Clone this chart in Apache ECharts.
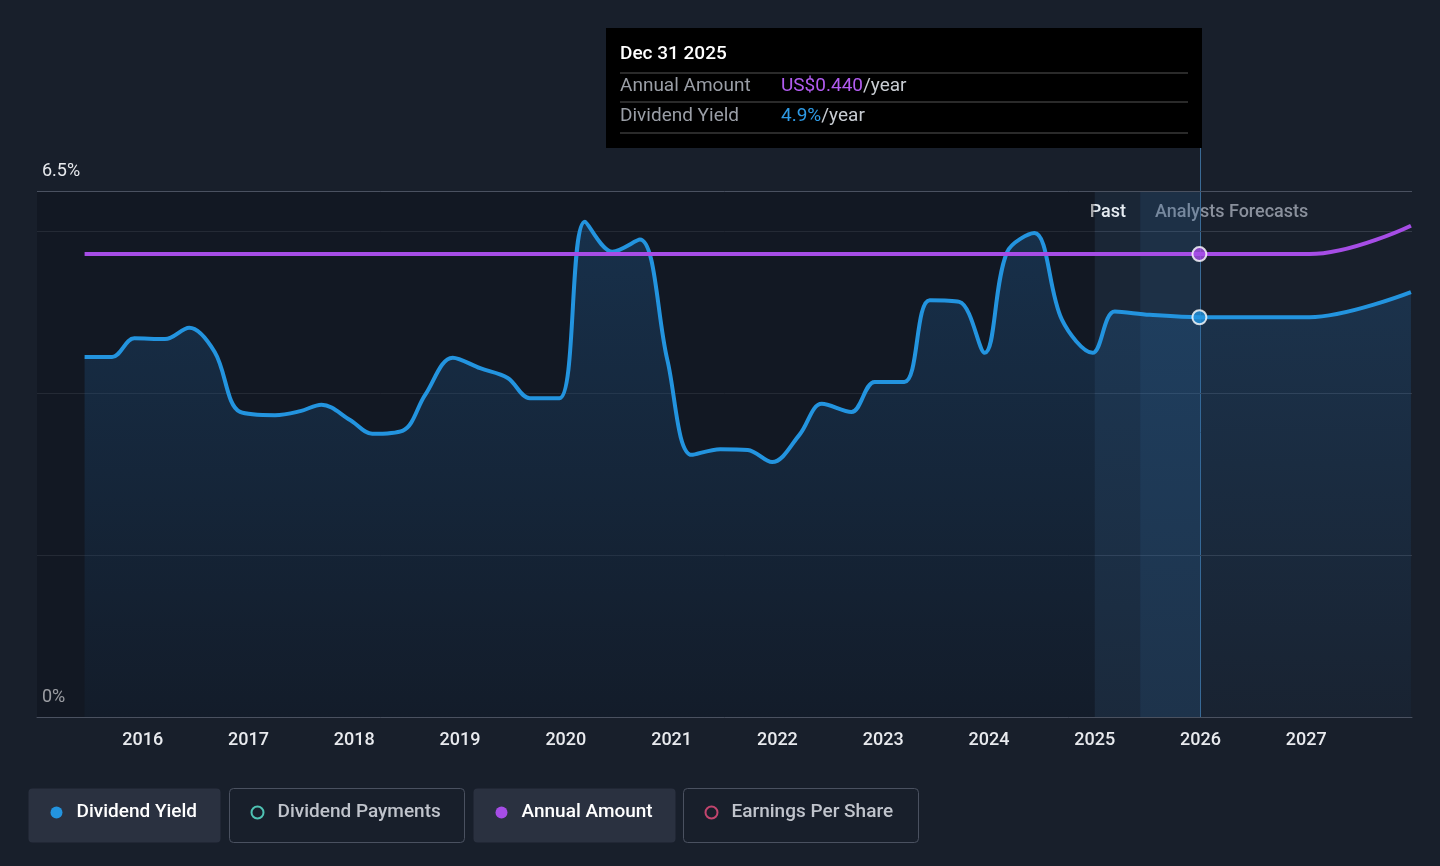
<!DOCTYPE html>
<html><head><meta charset="utf-8">
<script src="https://cdn.jsdelivr.net/npm/echarts@6/dist/echarts.min.js"></script>
<style>html,body{margin:0;background:#181f2b}#c{width:1440px;height:866px}</style>
</head><body><div id="c"></div>
<script>
// dividend yield (%) by fractional year
var yieldYears = [2015.45,2015.71,2015.92,2016.21,2016.44,2016.68,2016.92,2017.25,2017.49,2017.69,2017.96,2018.17,2018.46,2018.67,2018.93,2019.19,2019.45,2019.66,2019.94,2020.18,2020.44,2020.70,2020.96,2021.19,2021.46,2021.72,2021.95,2022.21,2022.42,2022.70,2022.92,2023.20,2023.44,2023.72,2023.96,2024.17,2024.43,2024.69,2024.98,2025.19,2025.52,2025.99,2027.03,2027.99];
var yieldValues = [4.45,4.45,4.68,4.67,4.81,4.51,3.77,3.73,3.78,3.86,3.67,3.50,3.54,3.98,4.44,4.31,4.19,3.94,3.94,6.12,5.75,5.90,4.41,3.24,3.31,3.30,3.15,3.49,3.87,3.77,4.14,4.14,5.15,5.13,4.50,5.74,5.98,4.91,4.50,5.01,4.97,4.94,4.94,5.25];
// annual amount (US$)
var amountYears = [2015.45,2025.99,2027.03,2027.99];
var amountValues = [0.44,0.44,0.44,0.467];
var yLabels = [0, 6.5];

var chart = echarts.init(document.getElementById('c'));
var zip = function (a, b) { return a.map(function (x, i) { return [x, b[i]]; }); };

function button(x, w, label, color, hollow, active) {
  return {
    type: 'group', left: x, top: 788,
    children: [
      { type: 'rect', shape: { width: w, height: 54, r: 4 },
        style: { fill: active ? '#2a3140' : 'transparent', stroke: active ? 'transparent' : '#4a5160', lineWidth: 1 } },
      { type: 'circle', shape: { cx: 28, cy: 24, r: 6 },
        style: hollow ? { fill: 'transparent', stroke: color, lineWidth: 2 } : { fill: color } },
      { type: 'text', x: 48, y: 14,
        style: { text: label, fill: active ? '#ffffff' : '#c0c4cc', font: '500 19px Roboto' } }
    ]
  };
}

chart.setOption({
  backgroundColor: '#181f2b',
  animation: false,
  grid: { left: 37, right: 28, top: 191, bottom: 149 },
  xAxis: {
    type: 'value', min: 2015, max: 2028, interval: 1,
    axisLine: { lineStyle: { color: '#4a5160' } },
    axisTick: { show: false }, splitLine: { show: false },
    axisLabel: { color: '#e8eaee', fontSize: 18, fontFamily: 'Roboto', fontWeight: 500, margin: 14,
      formatter: function (v) { return (v > 2015 && v < 2028) ? String(v) : ''; } }
  },
  yAxis: [{
    type: 'value', min: 0, max: 6.5, interval: 2,
    axisLine: { show: false }, axisTick: { show: false },
    splitLine: { lineStyle: { color: '#343b48' } },
    axisLabel: { inside: true, customValues: yLabels, verticalAlign: 'bottom', margin: 5,
      color: '#e8eaee', fontSize: 18, fontFamily: 'Roboto', padding: [0, 0, 11, 0],
      formatter: function (v) { return v + '%'; } }
  }, {
    type: 'value', min: 0, max: 0.5, show: false
  }],
  series: [{
    type: 'line', data: zip(yieldYears, yieldValues), smooth: 0.35, symbol: 'none',
    lineStyle: { color: '#2394df', width: 4 },
    areaStyle: { color: new echarts.graphic.LinearGradient(0, 0, 0, 1, [
      { offset: 0, color: 'rgba(35,100,160,0.45)' }, { offset: 1, color: 'rgba(35,100,160,0.08)' }]) },
    markArea: { silent: true, data: [
      [{ xAxis: 2014.9, yAxis: 0, itemStyle: { color: 'rgba(8,12,20,0.35)' } }, { xAxis: 2025, yAxis: 6.5 }],
      [{ xAxis: 2025, yAxis: 0, itemStyle: { color: 'rgba(40,90,140,0.12)' } }, { xAxis: 2025.43, yAxis: 6.5 }],
      [{ xAxis: 2025.43, yAxis: 0, itemStyle: { color: 'rgba(50,110,170,0.22)' } }, { xAxis: 2026, yAxis: 6.5 }]
    ] },
    markLine: { silent: true, symbol: 'none', label: { show: false },
      data: [{ yAxis: 6.5, lineStyle: { color: '#4a5160', type: 'solid', width: 1 } }] }
  }, {
    type: 'line', yAxisIndex: 1, data: zip(amountYears, amountValues), smooth: 0.4, symbol: 'none',
    lineStyle: { color: '#a64de6', width: 4 }
  }, {
    type: 'scatter', data: [[2025.99, 4.94]], symbolSize: 14,
    itemStyle: { color: '#2394df', borderColor: '#fff', borderWidth: 2 }, z: 5
  }, {
    type: 'scatter', yAxisIndex: 1, data: [[2025.99, 0.44]], symbolSize: 14,
    itemStyle: { color: '#a64de6', borderColor: '#fff', borderWidth: 2 }, z: 5
  }],
  graphic: [
    { type: 'line', shape: { x1: 1200.5, y1: 148, x2: 1200.5, y2: 717 }, style: { stroke: '#3a6a95', lineWidth: 1 } },
    { type: 'text', x: 1126, y: 203, style: { text: 'Past', fill: '#ffffff', font: '500 18px Roboto', textAlign: 'right' } },
    { type: 'text', x: 1155, y: 203, style: { text: 'Analysts Forecasts', fill: '#8a909c', font: '500 18px Roboto' } },
    { type: 'group', left: 606, top: 28, children: [
      { type: 'rect', shape: { width: 596, height: 120 }, style: { fill: '#000000' } },
      { type: 'text', x: 14, y: 17, style: { text: 'Dec 31 2025', fill: '#ffffff', font: '500 19px Roboto' } },
      { type: 'line', shape: { x1: 14, y1: 45, x2: 582, y2: 45 }, style: { stroke: '#555', lineWidth: 1 } },
      { type: 'text', x: 14, y: 49, style: { text: 'Annual Amount', fill: '#9a9ea6', font: '19px Roboto' } },
      { type: 'text', x: 175, y: 49, style: { rich: { a: { fill: '#b25cf0', font: '19px Roboto' }, b: { fill: '#c8ccd2', font: '19px Roboto' } }, text: '{a|US$0.440}{b|/year}' } },
      { type: 'line', shape: { x1: 14, y1: 74, x2: 582, y2: 74 }, style: { stroke: '#555', lineWidth: 1 } },
      { type: 'text', x: 14, y: 79, style: { text: 'Dividend Yield', fill: '#9a9ea6', font: '19px Roboto' } },
      { type: 'text', x: 175, y: 79, style: { rich: { a: { fill: '#2e9be6', font: '19px Roboto' }, b: { fill: '#c8ccd2', font: '19px Roboto' } }, text: '{a|4.9%}{b|/year}' } },
      { type: 'line', shape: { x1: 14, y1: 105, x2: 582, y2: 105 }, style: { stroke: '#555', lineWidth: 1 } }
    ] },
    button(28, 192, 'Dividend Yield', '#2394df', false, true),
    button(229, 235, 'Dividend Payments', '#4fc3b4', true, false),
    button(473, 202, 'Annual Amount', '#a64de6', false, true),
    button(683, 235, 'Earnings Per Share', '#c2456e', true, false)
  ]
});
</script></body></html>
